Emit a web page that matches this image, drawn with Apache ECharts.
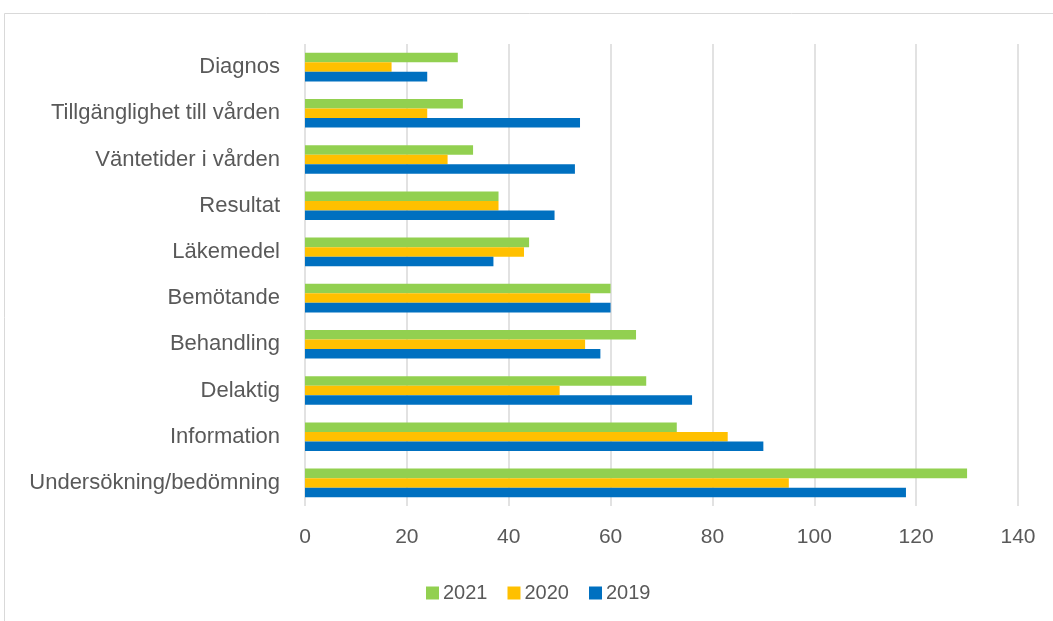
<!DOCTYPE html>
<html>
<head>
<meta charset="utf-8">
<script src="https://cdn.jsdelivr.net/npm/echarts@6/dist/echarts.min.js"></script>
<style>
html,body{margin:0;padding:0;background:#fff;}
#chart{width:1053px;height:621px;}
</style>
</head>
<body>
<div id="chart"></div>
<script>
// Categories listed bottom to top (as the category axis runs)
const categories = ['Undersökning/bedömning','Information','Delaktig','Behandling','Bemötande','Läkemedel','Resultat','Väntetider i vården','Tillgänglighet till vården','Diagnos'];
const values2019 = [118, 90, 76, 58, 60, 37, 49, 53, 54, 24];
const values2020 = [95, 83, 50, 55, 56, 43, 38, 28, 24, 17];
const values2021 = [130, 73, 67, 65, 60, 44, 38, 33, 31, 30];
const seriesNames = ['2021', '2020', '2019'];
const legendOrder = ['2021', '2020', '2019'];
const xTicks = [0, 140, 20]; // min, max, interval

const chart = echarts.init(document.getElementById('chart'), null, {renderer: 'canvas'});
const colors = {'2019': '#0070c0', '2020': '#ffc000', '2021': '#92d050'};
const dataBy = {'2019': values2019, '2020': values2020, '2021': values2021};
const fontFamily = 'Liberation Sans, Arial, sans-serif';

chart.setOption({
  animation: false,
  backgroundColor: '#fff',
  graphic: [{
    type: 'rect',
    shape: {x: 4.5, y: 13.5, width: 1200, height: 800},
    style: {fill: 'none', stroke: '#d9d9d9', lineWidth: 1}
  }],
  grid: {left: 305, right: 35, top: 44, bottom: 115, containLabel: false},
  legend: {
    data: legendOrder,
    left: 421,
    top: 578,
    itemWidth: 13,
    itemHeight: 13,
    itemGap: 20,
    icon: 'rect',
    textStyle: {color: '#595959', fontSize: 20, fontFamily: fontFamily, padding: [0, 0, 0, -1]}
  },
  xAxis: {
    type: 'value',
    min: xTicks[0], max: xTicks[1], interval: xTicks[2],
    axisLine: {show: false},
    axisTick: {show: false},
    axisLabel: {color: '#595959', fontSize: 21, margin: 21, fontFamily: fontFamily},
    splitLine: {show: true, lineStyle: {color: '#d9d9d9', width: 1.5}}
  },
  yAxis: {
    type: 'category',
    data: categories,
    axisLine: {show: false},
    axisTick: {show: false},
    axisLabel: {color: '#595959', fontSize: 22, margin: 25, fontFamily: fontFamily}
  },
  series: seriesNames.map(n => ({
    name: n,
    type: 'bar',
    data: dataBy[n],
    barGap: '0%',
    barCategoryGap: '38%',
    itemStyle: {color: colors[n]}
  }))
});
</script>
</body>
</html>
